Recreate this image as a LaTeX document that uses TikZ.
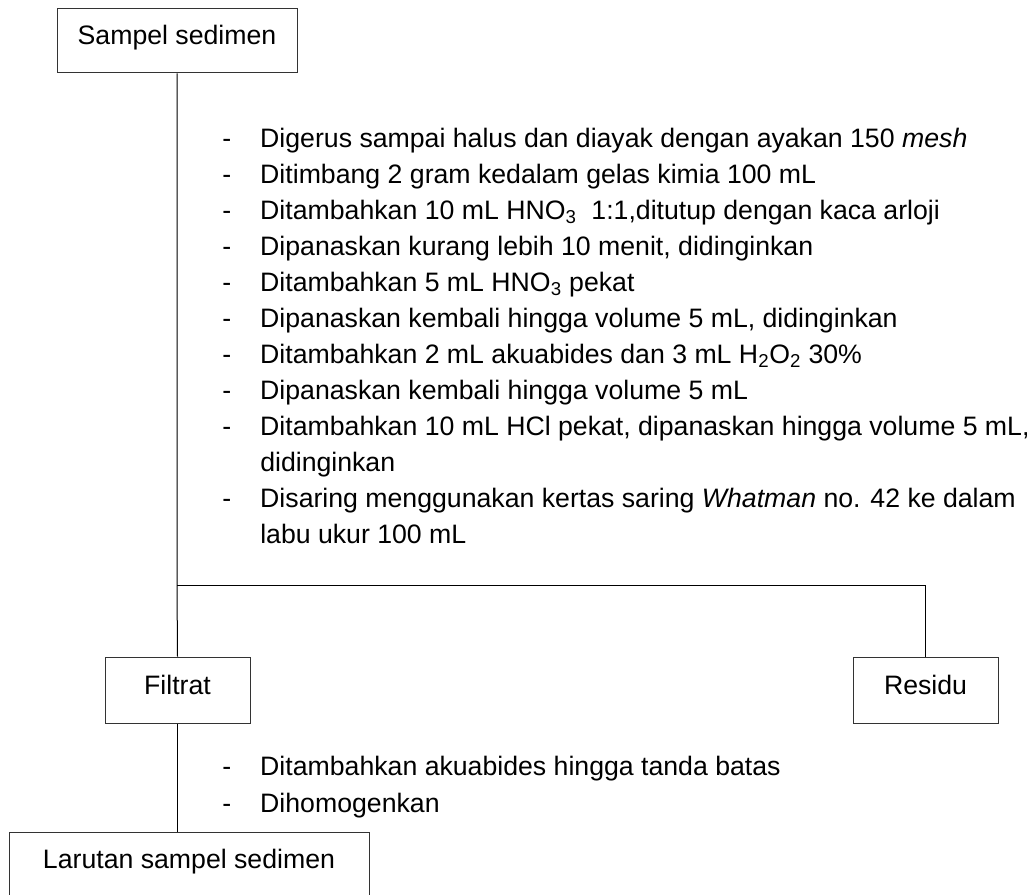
\documentclass[tikz,border=0pt]{standalone}
\usepackage{fontspec}
\setmainfont{Liberation Sans}

\newdimen\unitpx \unitpx=0.75pt
\newcommand{\stepdash}{\makebox[28.5pt][l]{-}}
\newcommand{\stepindent}{\hspace*{28.5pt}}

\begin{document}
\begin{tikzpicture}[x=0.75pt, y=-0.75pt, font=\fontsize{20}{27}\selectfont,
    box/.style={draw=black!80, line width=0.75pt, inner sep=0pt, anchor=base, text height=27pt, text depth=21pt},
    steps/.style={align=left, inner sep=0pt, anchor=base west}]

\clip (0,0) rectangle (1027,895);

%\draw[step=50, gray!30] (0,0) grid (1027,895);

\node[box, minimum width=240\unitpx] (sampel) at (177,45) {Sampel sedimen};
\node[box, minimum width=145\unitpx, text height=27.75pt, text depth=21.75pt] (filtrat) at (177.5,694) {Filtrat};
\node[box, minimum width=145\unitpx, text height=27.75pt, text depth=21.75pt] (residu) at (925.5,694) {Residu};
\node[box, minimum width=360\unitpx] (larutan) at (189,868) {Larutan sampel sedimen};

% base = baseline of the last line
\node[steps] (destruksi) at (222,543) {\stepdash Digerus sampai halus dan diayak dengan ayakan 150 \textit{mesh}\\
    \stepdash Ditimbang 2 gram kedalam gelas kimia 100 mL\\
    \stepdash Ditambahkan 10 mL HNO\textsubscript{3}\ \ 1:1,ditutup dengan kaca arloji\\
    \stepdash Dipanaskan kurang lebih 10 menit, didinginkan\\
    \stepdash Ditambahkan 5 mL HNO\textsubscript{3} pekat\\
    \stepdash Dipanaskan kembali hingga volume 5 mL, didinginkan\\
    \stepdash Ditambahkan 2 mL akuabides dan 3 mL H\textsubscript{2}O\textsubscript{2} 30\%\\
    \stepdash Dipanaskan kembali hingga volume 5 mL\\
    \stepdash Ditambahkan 10 mL HCl pekat, dipanaskan hingga volume 5 mL,\\
    \stepindent didinginkan\\
    \stepdash Disaring menggunakan kertas saring \textit{Whatman} no. 42 ke dalam\\
    \stepindent labu ukur 100 mL};

\node[steps] (pengenceran) at (222,812) {\stepdash Ditambahkan akuabides hingga tanda batas\\[0.75pt]
    \stepdash Dihomogenkan};

\coordinate (pisah) at (177,585);

\draw[line width=0.75pt] (sampel.south) -- (pisah) -- (filtrat.north);
\draw[line width=0.75pt] (pisah) -| (residu.north);
\draw[line width=0.75pt] (filtrat.south) -- (filtrat.south |- larutan.north);

\end{tikzpicture}
\end{document}
